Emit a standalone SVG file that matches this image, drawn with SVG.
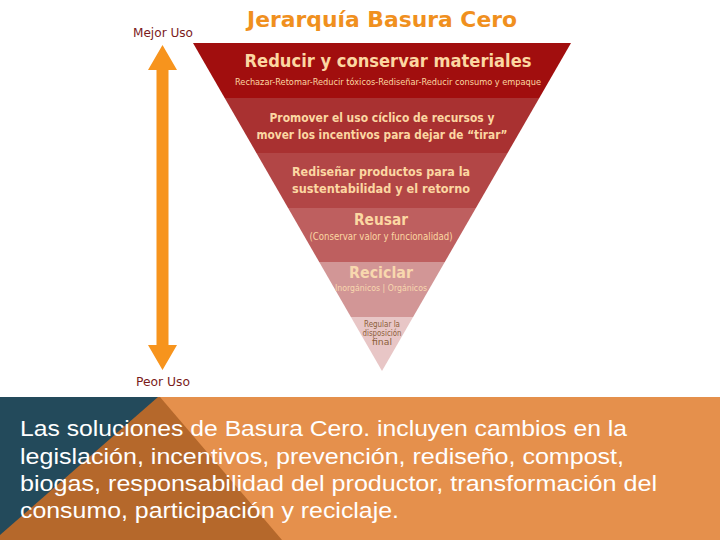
<svg xmlns="http://www.w3.org/2000/svg" width="720" height="540" viewBox="0 0 720 540">
<style>
.tri{font-family:"DejaVu Sans",Verdana,sans-serif;text-anchor:middle}
.b{font-weight:bold}
.pe{fill:#FCD7A2}
.lbl{font-family:"DejaVu Sans",Verdana,sans-serif;font-size:12.5px;fill:#7B1B1B}
.foot{font-family:"Liberation Sans",Arial,sans-serif;font-size:22px;fill:#FFFFFF}
</style>
<rect width="720" height="540" fill="#FFFFFF"/>
<g id="footer-bg">
<rect x="0" y="397" width="720" height="143" fill="#E5904C"/>
<polygon points="0,397 160,397 282,540 0,540" fill="#B5682B"/>
<polygon points="0,397 158,397 0,535" fill="#234A5B"/>
</g>
<text x="382" y="27" class="tri b" font-size="22" fill="#F0901E" textLength="270" lengthAdjust="spacingAndGlyphs">Jerarquía Basura Cero</text>
<g id="scale">
<text x="163" y="37" class="lbl" text-anchor="middle" textLength="60" lengthAdjust="spacingAndGlyphs">Mejor Uso</text>
<polygon points="162.5,45 177,70 168.5,70 168.5,345 177,345 162.5,370 148,345 156.5,345 156.5,70 148,70" fill="#F7941D"/>
<text x="163" y="386" class="lbl" text-anchor="middle" textLength="54" lengthAdjust="spacingAndGlyphs">Peor Uso</text>
</g>
<g id="level1">
<polygon points="193,43 571,43 539.3,98 224.7,98" fill="#A10E0E"/>
<text x="388" y="67" class="tri b pe" font-size="18.5" textLength="287" lengthAdjust="spacingAndGlyphs">Reducir y conservar materiales</text>
<text x="388" y="85" class="tri pe" font-size="9" textLength="306" lengthAdjust="spacingAndGlyphs">Rechazar-Retomar-Reducir tóxicos-Rediseñar-Reducir consumo y empaque</text>
</g>
<g id="level2">
<polygon points="224.7,98 539.3,98 507.6,153 256.4,153" fill="#A93131"/>
<text x="382" y="122" class="tri b pe" font-size="12.5" textLength="225" lengthAdjust="spacingAndGlyphs">Promover el uso cíclico de recursos y</text>
<text x="382" y="139" class="tri b pe" font-size="12.5" textLength="251" lengthAdjust="spacingAndGlyphs">mover los incentivos para dejar de “tirar”</text>
</g>
<g id="level3">
<polygon points="256.4,153 507.6,153 475.9,208 288.1,208" fill="#B24646"/>
<text x="381" y="176" class="tri b pe" font-size="12.5" textLength="178" lengthAdjust="spacingAndGlyphs">Rediseñar productos para la</text>
<text x="381" y="193" class="tri b pe" font-size="12.5" textLength="178" lengthAdjust="spacingAndGlyphs">sustentabilidad y el retorno</text>
</g>
<g id="level4">
<polygon points="288.1,208 475.9,208 444.8,262 319.2,262" fill="#BE5F5F"/>
<text x="381" y="225" class="tri b pe" font-size="16" textLength="54" lengthAdjust="spacingAndGlyphs">Reusar</text>
<text x="381" y="240" class="tri pe" font-size="10" textLength="143" lengthAdjust="spacingAndGlyphs">(Conservar valor y funcionalidad)</text>
</g>
<g id="level5">
<polygon points="319.2,262 444.8,262 413.1,317 350.9,317" fill="#D29696"/>
<text x="381" y="278" class="tri b" font-size="16" fill="#F8D8AE" textLength="64" lengthAdjust="spacingAndGlyphs">Reciclar</text>
<text x="381" y="291" class="tri" font-size="9" fill="#F8D8AE" textLength="92" lengthAdjust="spacingAndGlyphs">Inorgánicos | Orgánicos</text>
</g>
<g id="level6">
<polygon points="350.9,317 413.1,317 382,371" fill="#E8C6C6"/>
<text x="382" y="327" class="tri" font-size="8" fill="#8C5F3A" textLength="36" lengthAdjust="spacingAndGlyphs">Regular la</text>
<text x="382" y="336" class="tri" font-size="8" fill="#8C5F3A" textLength="39" lengthAdjust="spacingAndGlyphs">disposición</text>
<text x="382" y="345" class="tri" font-size="8" fill="#8C5F3A" textLength="20" lengthAdjust="spacingAndGlyphs">final</text>
</g>
<g id="footer-text">
<text x="20" y="436" class="foot" textLength="607" lengthAdjust="spacingAndGlyphs">Las soluciones de Basura Cero. incluyen cambios en la</text>
<text x="20" y="464" class="foot" textLength="604" lengthAdjust="spacingAndGlyphs">legislación, incentivos, prevención, rediseño, compost,</text>
<text x="20" y="491" class="foot" textLength="637" lengthAdjust="spacingAndGlyphs">biogas, responsabilidad del productor, transformación del</text>
<text x="20" y="518" class="foot" textLength="379" lengthAdjust="spacingAndGlyphs">consumo, participación y reciclaje.</text>
</g>
</svg>
